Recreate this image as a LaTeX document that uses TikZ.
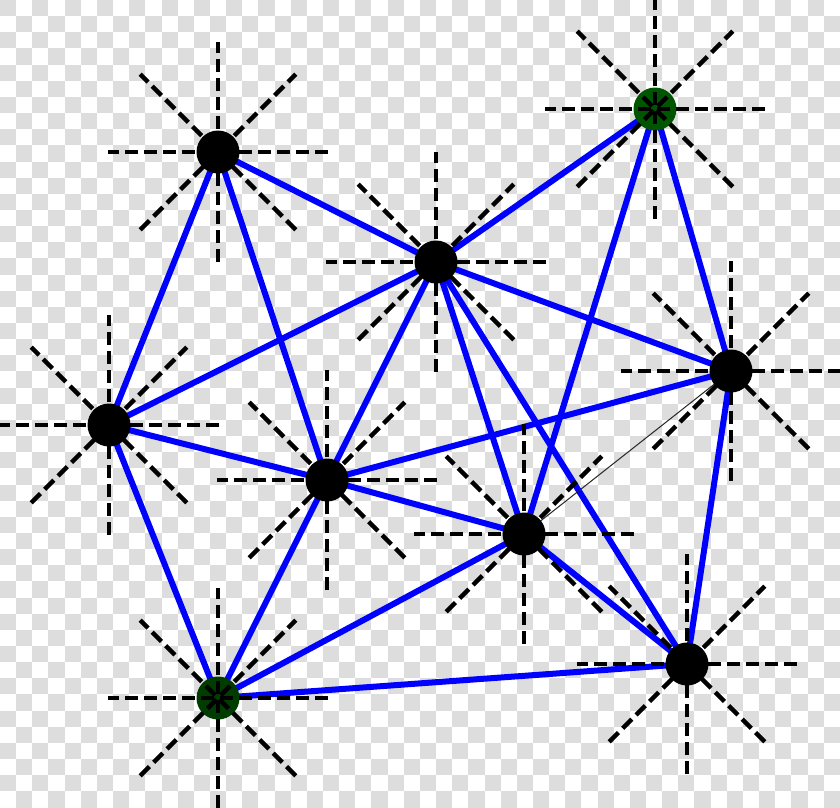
\documentclass[tikz,border=0pt]{standalone}
\usetikzlibrary{calc}
\pgfdeclarelayer{board}
\pgfdeclarelayer{edges}
\pgfdeclarelayer{stars}
\pgfsetlayers{board,edges,main,stars}
\definecolor{boardgray}{RGB}{221,221,221}
\definecolor{edgeblue}{RGB}{0,0,255}
\definecolor{greenA}{RGB}{0,85,0}
\definecolor{greenB}{RGB}{0,60,0}
\tikzset{
  dot/.style={circle, fill=black, inner sep=0pt, minimum size=43pt},
  greendot/.style={dot, fill=#1},
  edge/.style={draw=edgeblue, line width=6pt},
  thinedge/.style={draw=black!85, line width=1pt},
  starline/.style={draw=black, line width=4.5pt, dash pattern=on 13pt off 6pt},
}
\begin{document}
\begin{tikzpicture}[x=1pt, y=-1pt]
\useasboundingbox (0,0) rectangle (840,807);
\begin{pgfonlayer}{board}
  \fill[white] (0,0) rectangle (840,807);
  \foreach \i in {0,...,25}{
    \foreach \j in {0,...,24}{
      \fill[boardgray] ({2*\i*16.15},{2*\j*16.15}) rectangle ++(16.15,16.15);
      \fill[boardgray] ({(2*\i+1)*16.15},{(2*\j+1)*16.15}) rectangle ++(16.15,16.15);
    }
  }
\end{pgfonlayer}

\node[dot] (A) at (218,152) {};
\node[dot] (B) at (436,262) {};
\node[greendot=greenA] (C) at (655,109) {};
\node[dot] (D) at (731,371) {};
\node[dot] (E) at (109,425) {};
\node[dot] (F) at (327,480) {};
\node[dot] (G) at (524,534) {};
\node[dot] (H) at (687,664) {};
\node[greendot=greenB] (I) at (218,698) {};

\begin{pgfonlayer}{edges}
  \foreach \p/\q in {A/B, A/E, A/F, B/C, B/D, B/E, B/F, B/G, B/H, C/D, C/G, D/F, D/H, E/F, E/I, F/G, F/I, G/H, G/I, I/H}
    \draw[edge] (\p.center) -- (\q.center);
  \draw[thinedge] (D.center) -- (G.center);
\end{pgfonlayer}

\begin{pgfonlayer}{stars}
  \foreach \n in {A,B,C,D,E,F,G,H,I}{
    \foreach \a in {0,45,90,135}{
      \draw[starline] ([shift={(\a:110)}]\n.center) -- ([shift={(\a+180:110)}]\n.center);
    }
  }
\end{pgfonlayer}
\end{tikzpicture}
\end{document}
